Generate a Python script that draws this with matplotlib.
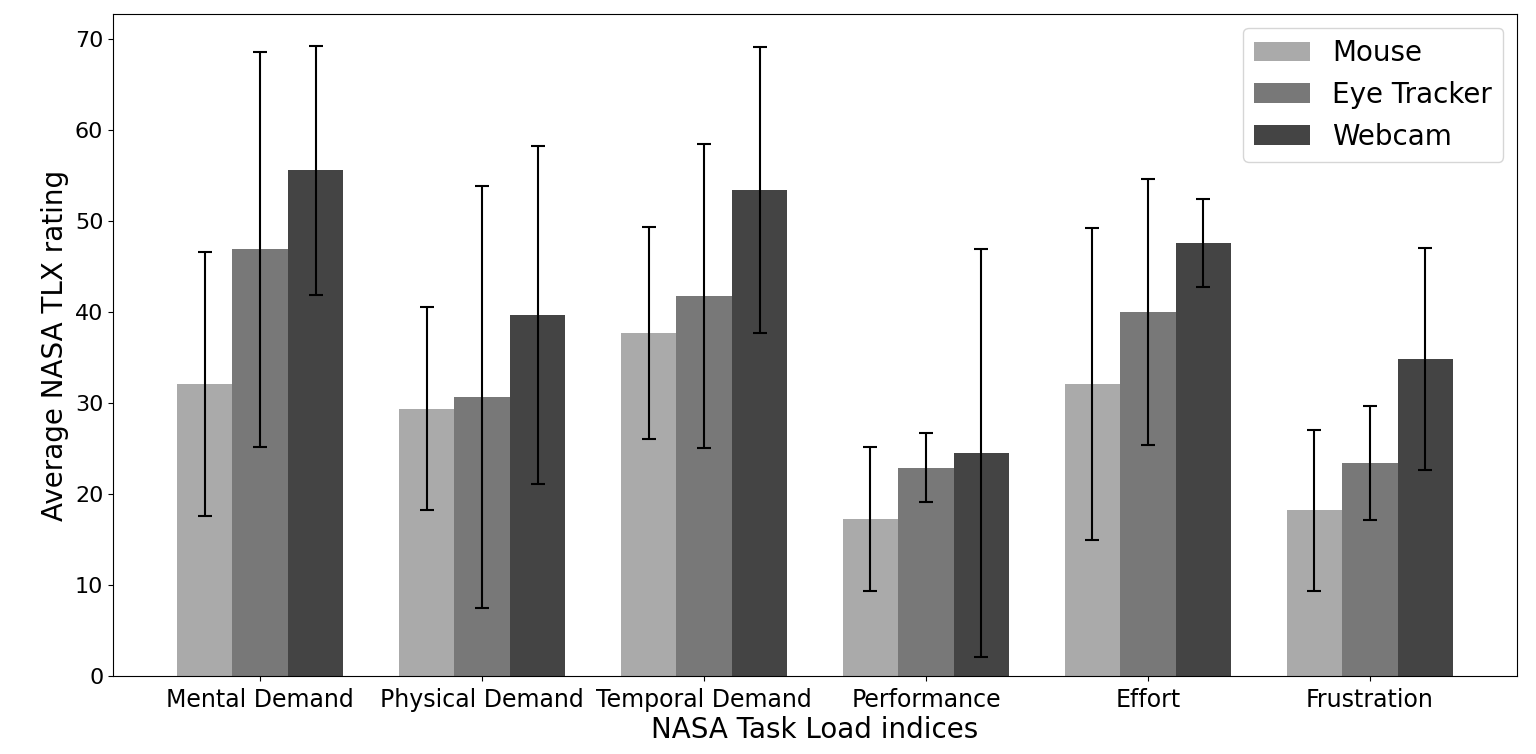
import numpy as np
import matplotlib
matplotlib.use('Agg')
import matplotlib.pyplot as plt

# NASA TLX indices and average ratings per input method
indices = ['Mental Demand', 'Physical Demand', 'Temporal Demand', 'Performance', 'Effort', 'Frustration']

mouse_mean = [32.1, 29.4, 37.7, 17.3, 32.1, 18.2]
mouse_std = [14.5, 11.2, 11.7, 7.9, 17.2, 8.8]

eye_mean = [46.9, 30.7, 41.8, 22.9, 40.0, 23.4]
eye_std = [21.7, 23.2, 16.7, 3.8, 14.6, 6.3]

webcam_mean = [55.6, 39.7, 53.4, 24.5, 47.6, 34.8]
webcam_std = [13.7, 18.6, 15.7, 22.4, 4.8, 12.2]

x = np.arange(len(indices))
width = 0.25

fig = plt.figure(figsize=(15.36, 7.54), dpi=100)
ax = fig.add_axes([0.0736, 0.1034, 0.914, 0.878])

err_kw = dict(ecolor='black', capsize=5, elinewidth=1.5, capthick=1.5)
ax.bar(x - width, mouse_mean, width, yerr=mouse_std, color='#aaaaaa', label='Mouse', error_kw=err_kw)
ax.bar(x, eye_mean, width, yerr=eye_std, color='#787878', label='Eye Tracker', error_kw=err_kw)
ax.bar(x + width, webcam_mean, width, yerr=webcam_std, color='#444444', label='Webcam', error_kw=err_kw)

ax.set_xticks(x)
ax.set_xticklabels(indices, fontsize=17)
ax.tick_params(axis='x', pad=5)
ax.tick_params(axis='y', labelsize=16)
ax.set_xlabel('NASA Task Load indices', fontsize=20, labelpad=3)
ax.set_ylabel('Average NASA TLX rating', fontsize=20)
ax.legend(loc='upper right', fontsize=20)

fig.savefig('out.png', dpi=100)
